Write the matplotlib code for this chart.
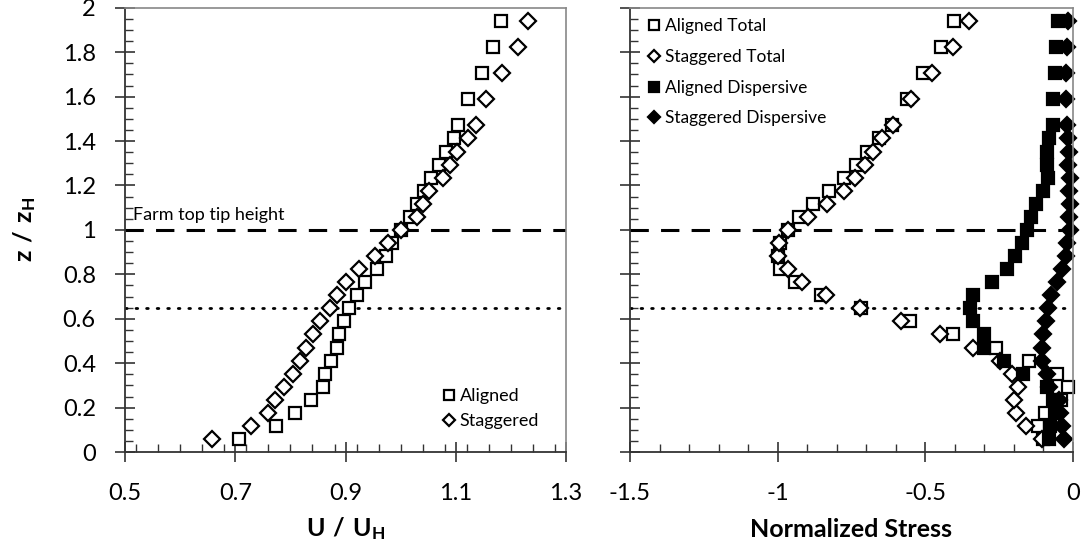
import numpy as np
import matplotlib.pyplot as plt
from matplotlib.ticker import MultipleLocator

plt.rcParams['font.family'] = ['Lato', 'DejaVu Sans']
plt.rcParams['mathtext.fontset'] = 'custom'
plt.rcParams['mathtext.rm'] = 'Lato'
plt.rcParams['mathtext.bf'] = 'Lato:bold'

# heights (z / z_H): uniform spacing to 25/17, then every second level
k = list(range(1, 26)) + [27, 29, 31, 33]
z = [i / 17 for i in k]

# velocity profiles U / U_H
u_aligned = [0.706, 0.774, 0.809, 0.837, 0.859, 0.863, 0.873, 0.884, 0.888, 0.898,
             0.907, 0.920, 0.935, 0.957, 0.974, 0.985, 1.000,
             1.017, 1.029, 1.042, 1.055, 1.069, 1.082, 1.096, 1.104,
             1.123, 1.147, 1.167, 1.182]
u_staggered = [0.657, 0.728, 0.760, 0.772, 0.788, 0.805, 0.818, 0.829, 0.841, 0.853,
               0.871, 0.885, 0.901, 0.925, 0.954, 0.977, 1.000,
               1.029, 1.041, 1.051, 1.077, 1.090, 1.103, 1.123, 1.136,
               1.155, 1.184, 1.213, 1.231]

# normalized stresses
aligned_total = [-0.102, -0.119, -0.096, -0.041, -0.018, -0.053, -0.148, -0.262, -0.405, -0.552,
                 -0.717, -0.854, -0.942, -0.991, -1.000, -0.992, -0.966,
                 -0.928, -0.879, -0.827, -0.775, -0.735, -0.698, -0.657, -0.613,
                 -0.562, -0.507, -0.447, -0.403]
staggered_total = [-0.105, -0.158, -0.192, -0.199, -0.187, -0.205, -0.248, -0.337, -0.449, -0.584,
                   -0.720, -0.835, -0.917, -0.964, -1.000, -0.996, -0.966,
                   -0.897, -0.834, -0.776, -0.738, -0.703, -0.676, -0.648, -0.608,
                   -0.549, -0.476, -0.407, -0.353]
aligned_disp = [-0.080, -0.077, -0.062, -0.068, -0.088, -0.168, -0.232, -0.303, -0.301, -0.338,
                -0.349, -0.337, -0.274, -0.225, -0.196, -0.172, -0.157,
                -0.141, -0.126, -0.100, -0.086, -0.087, -0.087, -0.081, -0.069,
                -0.066, -0.061, -0.056, -0.052]
staggered_disp = [-0.032, -0.037, -0.043, -0.049, -0.080, -0.087, -0.104, -0.105, -0.103, -0.092,
                  -0.085, -0.076, -0.053, -0.036, -0.022, -0.019, -0.011,
                  -0.015, -0.009, -0.015, -0.011, -0.016, -0.015, -0.017, -0.020,
                  -0.022, -0.022, -0.020, -0.018]

fig = plt.figure(figsize=(10.89, 5.54), dpi=100)
ax1 = fig.add_axes([0.1148, 0.184, 0.405, 0.802])
ax2 = fig.add_axes([0.5785, 0.184, 0.4068, 0.802])

mk = dict(linestyle='none', mew=1.6, clip_on=False)


def style_axes(ax, xmaj, xmin):
    for side in ['top', 'right']:
        ax.spines[side].set_color('#888888')
        ax.spines[side].set_linewidth(1.2)
    for side in ['left', 'bottom']:
        ax.spines[side].set_color('#333333')
        ax.spines[side].set_linewidth(1.3)
    ax.xaxis.set_major_locator(MultipleLocator(xmaj))
    ax.xaxis.set_minor_locator(MultipleLocator(xmin))
    ax.yaxis.set_major_locator(MultipleLocator(0.2))
    ax.yaxis.set_minor_locator(MultipleLocator(0.05))
    ax.tick_params(which='major', direction='inout', length=14, width=1.2,
                   color='#333333', labelsize=17, top=False, right=False)
    ax.tick_params(which='minor', direction='in', length=6, width=1.0,
                   color='#333333', top=False, right=False)
    ax.tick_params(axis='x', which='major', pad=15)
    ax.tick_params(axis='y', which='major', pad=14)
    ax.set_ylim(0, 2)
    ax.axhline(1.0, color='black', lw=2.2, dashes=(6, 4))
    ax.axhline(0.65, color='black', lw=2.0, linestyle=(0, (0.6, 3.2)),
               dash_capstyle='round')


# left panel: velocity
style_axes(ax1, 0.2, 0.04)
ax1.plot(u_aligned, z, 's', ms=9, mfc='white', mec='black', label='Aligned', **mk)
ax1.plot(u_staggered, z, 'D', ms=8, mfc='white', mec='black', label='Staggered', **mk)
ax1.set_xlim(0.5, 1.3)
ax1.set_xticks([0.5, 0.7, 0.9, 1.1, 1.3])
ax1.set_xticklabels(['0.5', '0.7', '0.9', '1.1', '1.3'])
ax1.set_yticks(np.arange(0, 2.01, 0.2))
ax1.set_yticklabels(['0', '0.2', '0.4', '0.6', '0.8', '1', '1.2', '1.4', '1.6', '1.8', '2'])
ax1.set_xlabel(r'$\mathbf{U\ /\ U_H}$', fontsize=18, labelpad=8)
ax1.set_ylabel(r'$\mathbf{z\ /\ z_H}$', fontsize=18, labelpad=18)
ax1.text(0.515, 1.045, 'Farm top tip height', fontsize=13)
leg1 = ax1.legend(loc='lower right', frameon=False, fontsize=13, markerscale=0.75,
                  handlelength=0.6, handletextpad=0.3, labelspacing=0.5,
                  borderaxespad=0.0, bbox_to_anchor=(0.955, 0.035))

# right panel: stresses
style_axes(ax2, 0.5, 0.1)
ax2.plot(aligned_total, z, 's', ms=9, mfc='white', mec='black', label='Aligned Total', **mk)
ax2.plot(staggered_total, z, 'D', ms=8, mfc='white', mec='black', label='Staggered Total', **mk)
ax2.plot(aligned_disp, z, 's', ms=9, mfc='black', mec='black', label='Aligned Dispersive', **mk)
ax2.plot(staggered_disp, z, 'D', ms=8, mfc='black', mec='black', label='Staggered Dispersive', **mk)
ax2.set_xlim(-1.5, 0)
ax2.set_xticks([-1.5, -1.0, -0.5, 0])
ax2.set_xticklabels(['-1.5', '-1', '-0.5', '0'])
ax2.set_yticks(np.arange(0, 2.01, 0.2))
ax2.set_yticklabels([])
ax2.set_xlabel('Normalized Stress', fontsize=18, fontweight='bold', labelpad=10)
leg2 = ax2.legend(loc='upper left', frameon=False, fontsize=12.5, markerscale=0.75,
                  handlelength=0.6, handletextpad=0.3, labelspacing=0.85,
                  borderaxespad=0.2, bbox_to_anchor=(0.02, 1.0))

fig.savefig('out.png', dpi=100)
